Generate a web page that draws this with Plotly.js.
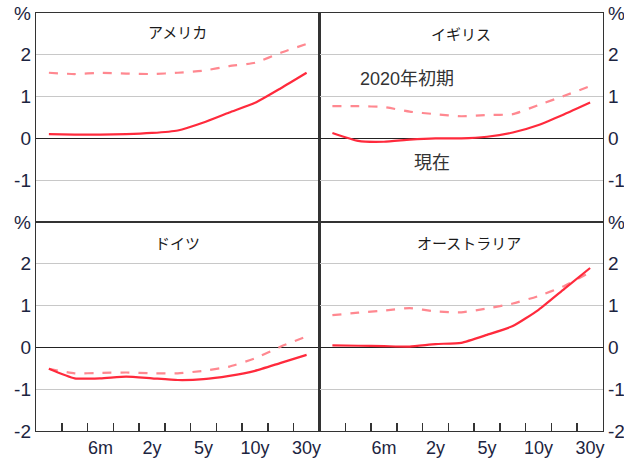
<!DOCTYPE html>
<html>
<head>
<meta charset="utf-8">
<script src="https://cdn.plot.ly/plotly-3.0.1.min.js"></script>
<style>html,body{margin:0;padding:0;background:#fff;}#chart{width:624px;height:460px;}</style>
</head>
<body>
<div id="chart"></div>
<script>
// Maturity slots (11 points), labels shown on some
const maturities = ['1m','3m','6m','1y','2y','3y','5y','7y','10y','20y','30y'];
const tickLabelPos = [2, 4, 6, 8, 10];
const tickLabels = ['6m','2y','5y','10y','30y'];
const xIndex = maturities.map((m, i) => i);

const panelNames = ['アメリカ', 'イギリス', 'ドイツ', 'オーストラリア'];

// 現在 (current) - solid
const usNow  = [0.10, 0.09, 0.09, 0.10, 0.13, 0.19, 0.38, 0.62, 0.85, 1.20, 1.57];
const ukNow  = [0.13, -0.06, -0.08, -0.03, 0.00, 0.00, 0.04, 0.14, 0.32, 0.58, 0.86];
const deNow  = [-0.51, -0.74, -0.74, -0.70, -0.74, -0.78, -0.76, -0.68, -0.56, -0.37, -0.18];
const auNow  = [0.05, 0.04, 0.03, 0.02, 0.08, 0.11, 0.30, 0.51, 0.90, 1.40, 1.90];

// 2020年初期 (early 2020) - dashed
const usEarly = [1.57, 1.54, 1.57, 1.55, 1.54, 1.57, 1.62, 1.73, 1.81, 2.05, 2.26];
const ukEarly = [0.77, 0.77, 0.75, 0.64, 0.58, 0.53, 0.56, 0.58, 0.80, 1.02, 1.25];
const deEarly = [-0.51, -0.62, -0.61, -0.60, -0.62, -0.62, -0.56, -0.46, -0.26, 0.02, 0.26];
const auEarly = [0.77, 0.83, 0.88, 0.94, 0.86, 0.84, 0.93, 1.05, 1.23, 1.47, 1.80];

const yTickVals = [-2, -1, 0, 1, 2, 3];
const yTickText = ['-2', '-1', '0', '1', '2', '%'];

const solidColor = '#ff2a3c';
const dashColor = '#ff8890';

const nowSeries = [usNow, ukNow, deNow, auNow];
const earlySeries = [usEarly, ukEarly, deEarly, auEarly];
const axisIds = [['x','y'], ['x2','y2'], ['x3','y3'], ['x4','y4']];

const traces = [];
for (let p = 0; p < 4; p++) {
  traces.push({
    x: xIndex, y: earlySeries[p], xaxis: axisIds[p][0], yaxis: axisIds[p][1],
    type: 'scatter', mode: 'lines', name: '2020年初期', showlegend: false,
    line: {color: dashColor, width: 2.2, dash: 'dash', shape: 'spline', smoothing: 0.5}
  });
  traces.push({
    x: xIndex, y: nowSeries[p], xaxis: axisIds[p][0], yaxis: axisIds[p][1],
    type: 'scatter', mode: 'lines', name: '現在', showlegend: false,
    line: {color: solidColor, width: 2.2, shape: 'spline', smoothing: 0.5}
  });
}

const tickFont = {family: 'Liberation Sans, Arial, sans-serif', size: 19, color: '#1c2440'};
const frameColor = '#333333';
const boundaryTicks = xIndex.slice(0, -1).map(i => i + 0.5);

function xAxis(domain, anchor, bottom) {
  const ax = {
    domain: domain, anchor: anchor, range: [-0.5, 10.5], fixedrange: true,
    showgrid: false, zeroline: false, showline: true, mirror: true,
    linecolor: frameColor, linewidth: 1.2,
    tickmode: 'array', tickvals: tickLabelPos, ticktext: tickLabels,
    ticks: '', showticklabels: bottom, tickfont: {family: tickFont.family, size: 18, color: tickFont.color}
  };
  if (bottom) {
    ax.minor = {tickmode: 'array', tickvals: boundaryTicks, ticks: 'inside', ticklen: 8, tickwidth: 1.5, tickcolor: frameColor, showgrid: false};
  }
  return ax;
}
function yAxis(domain, anchor, side, top) {
  const vals = top ? yTickVals.slice(1) : yTickVals;
  const txt = top ? yTickText.slice(1) : yTickText;
  return {
    domain: domain, anchor: anchor, side: side, range: [-2, 3], fixedrange: true,
    tickmode: 'array', tickvals: vals, ticktext: txt, ticks: '',
    showgrid: true, gridcolor: '#c8c8c8', gridwidth: 1.2,
    zeroline: true, zerolinecolor: '#222222', zerolinewidth: 1.5,
    showline: true, mirror: true, linecolor: frameColor, linewidth: 1.2,
    tickfont: tickFont
  };
}

const annFont = {family: 'Noto Sans CJK JP, sans-serif', size: 15, color: '#1a1a1a'};
const noteFont = {family: 'Liberation Sans, Noto Sans CJK JP, sans-serif', size: 18, color: '#333333'};
const annotations = [
  {text: panelNames[0], xref: 'x', yref: 'y', x: 5, y: 2.55},
  {text: panelNames[1], xref: 'x2', yref: 'y2', x: 5, y: 2.5},
  {text: panelNames[2], xref: 'x3', yref: 'y3', x: 5, y: 2.5},
  {text: panelNames[3], xref: 'x4', yref: 'y4', x: 5.3, y: 2.5},
  {text: '2020年初期', xref: 'x2', yref: 'y2', x: 2.9, y: 1.42, font: noteFont},
  {text: '現在', xref: 'x2', yref: 'y2', x: 3.85, y: -0.58, font: noteFont}
].map(a => Object.assign({showarrow: false, font: annFont, xanchor: 'center', yanchor: 'middle'}, a));

const layout = {
  width: 624, height: 460,
  margin: {l: 36, r: 21, t: 13, b: 29},
  paper_bgcolor: '#ffffff', plot_bgcolor: '#ffffff',
  showlegend: false,
  xaxis: xAxis([0, 0.5], 'y', false),
  yaxis: yAxis([0.5, 1], 'x', 'left', true),
  xaxis2: xAxis([0.5, 1], 'y2', false),
  yaxis2: yAxis([0.5, 1], 'x2', 'right', true),
  xaxis3: xAxis([0, 0.5], 'y3', true),
  yaxis3: yAxis([0, 0.5], 'x3', 'left', false),
  xaxis4: xAxis([0.5, 1], 'y4', true),
  yaxis4: yAxis([0, 0.5], 'x4', 'right', false),
  annotations: annotations
};

Plotly.newPlot('chart', traces, layout, {displayModeBar: false, staticPlot: true});
</script>
</body>
</html>
